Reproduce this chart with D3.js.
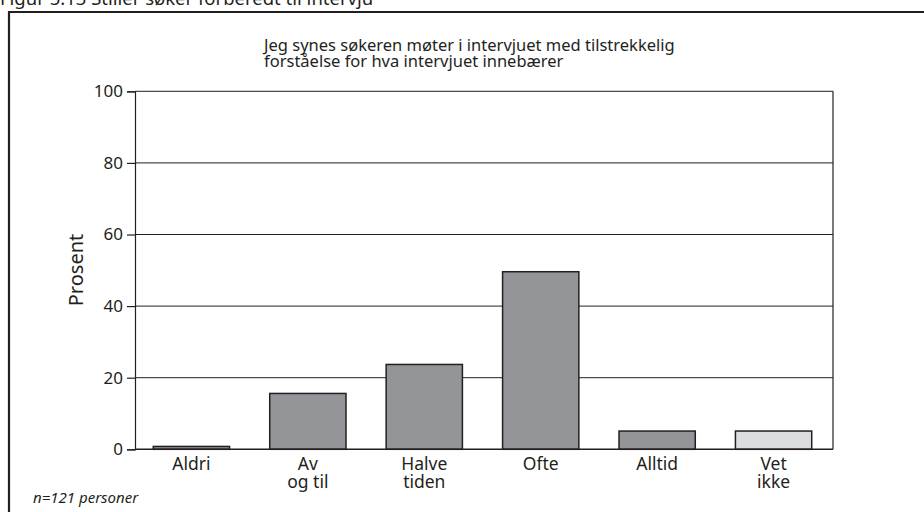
<!DOCTYPE html>
<html>
<head>
<meta charset="utf-8">
<script src="https://cdn.jsdelivr.net/npm/d3@7"></script>
<style>
  html, body { margin: 0; padding: 0; background: #fff; }
  svg { display: block; font-family: "Noto Sans", "Open Sans", sans-serif; }
</style>
</head>
<body>
<div id="chart"></div>
<script>
const categories = [["Aldri"], ["Av", "og til"], ["Halve", "tiden"], ["Ofte"], ["Alltid"], ["Vet", "ikke"]];
const values = [0.8, 15.6, 23.7, 49.6, 5.1, 5.1];
const fills = ["#939598", "#939598", "#939598", "#939598", "#939598", "#dcddde"];
const yTicks = [0, 20, 40, 60, 80, 100];
const titleLines = ["Jeg synes søkeren møter i intervjuet med tilstrekkelig", "forståelse for hva intervjuet innebærer"];
const figureCaption = "Figur 5.13 Stiller søker forberedt til intervju";
const note = "n=121 personer";
const yLabel = "Prosent";

(function () {
const W = 924, H = 512;
const ink = "#231f20";
const svg = d3.select("#chart").append("svg").attr("width", W).attr("height", H);

// Cut-off caption at the very top
svg.append("text").attr("x", 0).attr("y", 5).attr("font-size", 18.5).attr("fill", ink).text(figureCaption);

// Frame
svg.append("path").attr("d", `M9,${H + 5} V12 H${W + 5}`).attr("fill", "none").attr("stroke", ink).attr("stroke-width", 2.2);

const pL = 135, pR = 833, pT = 91.3, pB = 449.3;
const y = d3.scaleLinear().domain([0, 100]).range([pB, pT]);
const x = d3.scaleBand().domain(d3.range(categories.length)).range([pL - 1.5, pR - 1.5]).paddingInner(0.345).paddingOuter(0.17);

// Gridlines
svg.append("g").selectAll("line").data(yTicks.filter(d => d > 0)).join("line")
  .attr("x1", pL).attr("x2", pR).attr("y1", d => y(d)).attr("y2", d => y(d))
  .attr("stroke", ink).attr("stroke-width", 1);

// Y axis
const yAxis = svg.append("g").attr("transform", `translate(${pL},0)`)
  .call(d3.axisLeft(y).tickValues(yTicks).tickSize(8).tickPadding(4).tickFormat(d3.format("d")));
yAxis.select(".domain").attr("stroke", ink).attr("stroke-width", 1.2);
yAxis.selectAll(".tick line").attr("stroke", ink).attr("stroke-width", 1.2);
yAxis.selectAll(".tick text").attr("font-size", 17).attr("fill", ink).attr("font-family", "Noto Sans, sans-serif");

// Right border
svg.append("line").attr("x1", pR).attr("x2", pR).attr("y1", pT).attr("y2", pB).attr("stroke", ink).attr("stroke-width", 1.2);

// Bars
svg.append("g").selectAll("rect").data(values).join("rect")
  .attr("x", (d, i) => x(i)).attr("width", x.bandwidth())
  .attr("y", d => y(d)).attr("height", d => pB - y(d))
  .attr("fill", (d, i) => fills[i]).attr("stroke", ink).attr("stroke-width", 1.5);

svg.append("line").attr("x1", pL).attr("x2", pR).attr("y1", pB).attr("y2", pB).attr("stroke", ink).attr("stroke-width", 1.4);

// X labels
const xl = svg.append("g").selectAll("text").data(categories).join("text")
  .attr("x", (d, i) => x(i) + x.bandwidth() / 2).attr("y", 470)
  .attr("text-anchor", "middle").attr("font-size", 17.5).attr("fill", ink);
xl.each(function(d) {
  const t = d3.select(this);
  d.forEach((line, j) => {
    t.append("tspan").attr("x", t.attr("x")).attr("dy", j === 0 ? 0 : 18).text(line);
  });
});

// Y label
svg.append("text").attr("transform", `translate(83,270) rotate(-90)`)
  .attr("text-anchor", "middle").attr("font-size", 20).attr("fill", ink).text(yLabel);

// Title
svg.append("g").selectAll("text").data(titleLines).join("text")
  .attr("x", 264).attr("y", (d, i) => 50.5 + i * 16.5).attr("font-size", 16.5).attr("fill", ink).text(d => d);

// Note
svg.append("text").attr("x", 33).attr("y", 503).attr("font-size", 15).attr("font-style", "italic").attr("fill", ink).text(note);
})();
</script>
</body>
</html>
